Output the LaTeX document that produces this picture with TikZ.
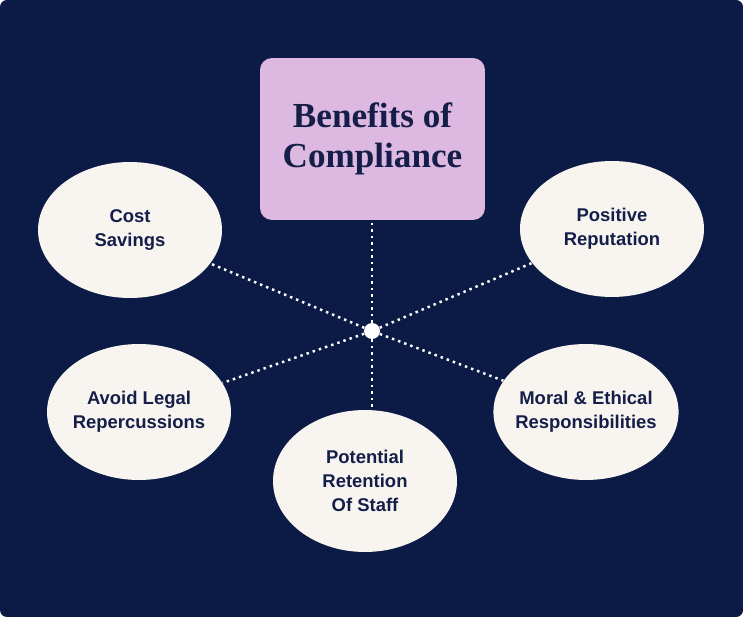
\documentclass[tikz,border=0pt]{standalone}
\usepackage{fontspec}
\setmainfont{Liberation Serif}
\newfontfamily\labelfont{Liberation Sans}
\usepackage{tikz}
\usetikzlibrary{shapes.geometric}
\definecolor{cmnavy}{RGB}{12,26,70}
\definecolor{cmink}{RGB}{20,30,72}
\definecolor{cmlilac}{RGB}{221,184,224}
\definecolor{cmcream}{RGB}{248,245,241}
\tikzset{
  benefit/.style={ellipse, fill=cmcream, text=cmink, inner ysep=0pt, inner xsep=-3pt,
    minimum width=3.68cm, minimum height=2.72cm, align=center,
    font=\labelfont\bfseries\fontsize{10.5}{13.6}\selectfont},
  dotline/.style={white, line width=1.4pt, dash pattern=on 1.4pt off 2.3pt}
}

\begin{document}
\begin{tikzpicture}[x=0.02cm, y=-0.02cm]
% Background
\useasboundingbox (0,0) rectangle (743,617);
\fill[cmnavy, rounded corners=0.14cm] (0,0) rectangle (743,617);
% Title
\node[fill=cmlilac, rounded corners=0.24cm, minimum width=4.5cm, minimum height=3.24cm,
      text=cmink, align=center, font=\bfseries\fontsize{20}{22.7}\selectfont]
  (title) at (372.5,139) {Benefits of\\Compliance};
% Benefits
\node[benefit] (cost)  at (130,230) {Cost\\Savings};
\node[benefit] (reput) at (612,229) {Positive\\Reputation};
\node[benefit] (legal) at (139,412) {Avoid Legal\\Repercussions};
\node[benefit] (moral) at (586,412) {Moral \& Ethical\\Responsibilities};
\node[benefit, minimum height=2.84cm] (staff) at (365,481) {Potential\\Retention\\Of Staff};
% Hub and dotted spokes
\node[circle, fill=white, minimum size=0.32cm, inner sep=0pt] (hub) at (372,331) {};
\foreach \n in {cost,reput,legal,moral}
  \draw[dotline] (hub) -- (\n);
\draw[dotline] (hub) -- (hub |- title.south);
\draw[dotline] (hub) -- (hub |- staff.north);
\end{tikzpicture}
\end{document}
